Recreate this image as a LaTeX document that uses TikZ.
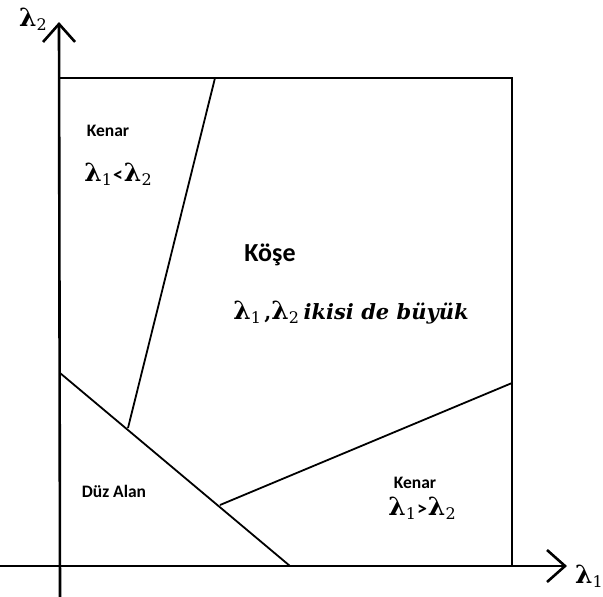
\documentclass[tikz,border=0pt]{standalone}
\usepackage{fontspec}
\setmainfont{Carlito}
\newfontfamily\serb{DejaVu Serif}
\newcommand{\lam}[1]{{\fontsize{25}{28}\selectfont\serb\bfseries λ}\raisebox{-4pt}{\fontsize{16}{18}\selectfont\serb #1}}
\usetikzlibrary{arrows.meta}
\begin{document}
\begin{tikzpicture}[x=1pt,y=-1pt,
  axis/.style={line width=2.6pt, -{Straight Barb[length=18pt,width=32pt,line width=2.6pt]}},
  edge/.style={line width=1.8pt},
  lbl/.style={font=\fontsize{17.5}{20}\selectfont\bfseries, inner sep=0pt},
  mathlbl/.style={font=\fontsize{20}{22}\selectfont, inner sep=0pt}]
\useasboundingbox (0,0) rectangle (603,597);
% axes
\coordinate (xs) at (0,566);
\coordinate (xe) at (567,566);
\coordinate (ys) at (60,597);
\coordinate (ye) at (59,22);
\draw[axis] (xs) -- (xe);
\draw[axis] (ys) -- (ye);
% box
\coordinate (tl) at (60,78);
\coordinate (tr) at (512,78);
\coordinate (br) at (512,566);
\draw[edge] (tl) -- (tr) -- (br);
% dividing lines
\coordinate (a1) at (215,78);
\coordinate (a2) at (128,428);
\coordinate (b1) at (60,373);
\coordinate (b2) at (290,566);
\coordinate (c1) at (220,505);
\coordinate (c2) at (512,383);
\draw[edge] (a1) -- (a2);
\draw[edge] (b1) -- (b2);
\draw[edge] (c1) -- (c2);
% labels
\node[mathlbl] (l2) at (33,19) {\lam{2}};
\node[mathlbl] (l1) at (589,576) {\lam{1}};
\node[lbl] (k1) at (108,131) {Kenar};
\node[mathlbl] (k1m) at (118,174) {\lam{1}\kern1pt{\fontsize{20}{22}\selectfont\bfseries <}\kern1pt\lam{2}};
\node[lbl, font=\fontsize{26}{28}\selectfont\bfseries] (ko) at (270,255) {Köşe};
\node[mathlbl] (kom) at (351,313) {\lam{1}\,{\serb\bfseries ,}\lam{2} {\fontsize{21}{24}\selectfont\serb\bfseries\itshape ikisi de büyük}};
\node[lbl] (du) at (114,491) {Düz Alan};
\node[lbl] (k2) at (415,483) {Kenar};
\node[mathlbl] (k2m) at (422,508) {\lam{1}\kern1pt{\fontsize{20}{22}\selectfont\bfseries >}\kern1pt\lam{2}};
\end{tikzpicture}
\end{document}
